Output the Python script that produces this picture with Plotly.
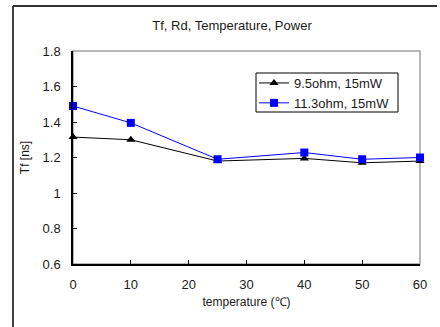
import plotly.graph_objects as go

temps = [0, 10, 25, 40, 50, 60]
s1_name = "9.5ohm, 15mW"
s1_vals = [1.315, 1.30, 1.18, 1.195, 1.17, 1.18]
s2_name = "11.3ohm, 15mW"
s2_vals = [1.49, 1.395, 1.19, 1.228, 1.19, 1.20]
x_ticks = [0, 10, 20, 30, 40, 50, 60]
y_ticks = [0.6, 0.8, 1.0, 1.2, 1.4, 1.6, 1.8]
y_ticktext = ["0.6", "0.8", "1", "1.2", "1.4", "1.6", "1.8"]

FONT = "Liberation Sans, Arial, sans-serif"

W, H = 440, 327
L, R, T, B = 73, 20, 51, 63
pw, ph = W - L - R, H - T - B

def px(x):
    return (x - L) / pw

def py(y):
    return (H - B - y) / ph

fig = go.Figure()
fig.add_trace(go.Scatter(x=temps, y=s1_vals, name=s1_name, mode="lines+markers",
                         cliponaxis=False,
                         line=dict(color="black", width=1),
                         marker=dict(symbol="triangle-up", size=8, color="black")))
fig.add_trace(go.Scatter(x=temps, y=s2_vals, name=s2_name, mode="lines+markers",
                         cliponaxis=False,
                         line=dict(color="#0000ff", width=1),
                         marker=dict(symbol="square", size=8, color="#0000ff")))

fig.update_layout(
    width=W, height=H,
    margin=dict(l=L, r=R, t=T, b=B, autoexpand=False),
    paper_bgcolor="white", plot_bgcolor="white",
    font=dict(family=FONT, size=13, color="#1a1a1a"),
    title=dict(text="Tf, Rd, Temperature, Power", x=232 / W, xanchor="center",
               y=1 - 25 / H, yanchor="middle", font=dict(size=13, color="#1a1a1a")),
    showlegend=True,
    legend=dict(x=px(254), y=py(68), xanchor="left", yanchor="top",
                borderwidth=0, bgcolor="rgba(0,0,0,0)",
                font=dict(size=13), itemwidth=30, tracegroupgap=0),
    xaxis=dict(range=[0, 60], tickvals=x_ticks, ticks="inside", ticklen=4,
               tickcolor="black", showline=True, linecolor="black", linewidth=1.5,
               showgrid=False, zeroline=False, ticklabelstandoff=8,
               tickfont=dict(size=13),
               title=dict(text="temperature (℃)", font=dict(size=12), standoff=6)),
    yaxis=dict(range=[0.6, 1.8], tickvals=y_ticks, ticktext=y_ticktext, ticks="inside",
               ticklen=4, tickcolor="black", showline=True, linecolor="black", linewidth=1.5,
               showgrid=False, zeroline=False, ticklabelstandoff=8,
               tickfont=dict(size=13),
               title=dict(text="Tf [ns]", font=dict(size=12), standoff=10)),
    shapes=[
        dict(type="rect", xref="paper", yref="paper", x0=0, y0=0, x1=1, y1=1,
             line=dict(color="#a0a0a0", width=1.5), layer="below"),
        dict(type="line", xref="paper", yref="paper", x0=px(13), y0=py(6), x1=px(13), y1=py(330),
             line=dict(color="black", width=1.5)),
        dict(type="line", xref="paper", yref="paper", x0=px(13), y0=py(6), x1=px(437), y1=py(6),
             line=dict(color="#333333", width=2)),
        dict(type="rect", xref="paper", yref="paper", x0=px(256), y0=py(73), x1=px(398), y1=py(112),
             line=dict(color="black", width=1), fillcolor="white", layer="above"),
    ],
)

fig.write_html("out.html")
